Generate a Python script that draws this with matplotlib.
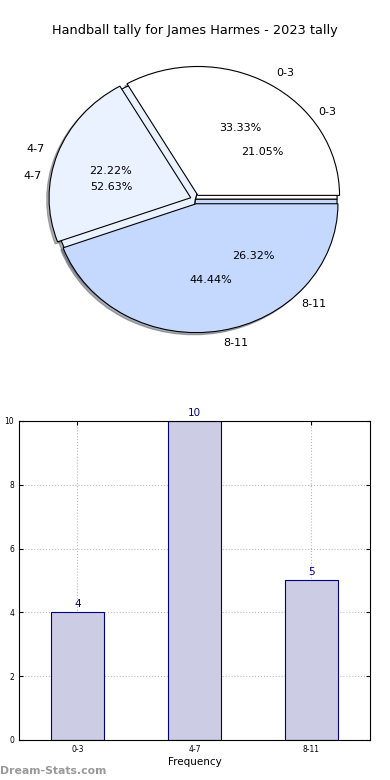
import matplotlib
matplotlib.use("Agg")
import matplotlib.pyplot as plt
import numpy as np

# pie data (two tallies overlaid)
cats = ["0-3", "4-7", "8-11"]
prev_counts = [3, 2, 4]
counts = [4, 10, 5]
pie_colors = ["#ffffff", "#eaf1ff", "#c5d9ff"]

fig = plt.figure(figsize=(3.9, 7.8), dpi=100)
fig.text(0.5, 0.961, "Handball tally for James Harmes - 2023 tally",
         ha="center", va="center", fontsize=9.3)

shade = dict(ox=-0.012, oy=-0.012, shade=0.6)
ax1 = fig.add_axes([0.036, 0.533, 0.93, 0.423])
# underneath: current tally
ax1.pie(counts, labels=cats, colors=pie_colors, autopct="%1.2f%%",
        shadow=shade, wedgeprops=dict(edgecolor="black", linewidth=0.8),
        textprops=dict(fontsize=8))
# on top: exploded tally
ax1.pie(prev_counts, labels=cats, colors=pie_colors, autopct="%1.2f%%",
        explode=[0.035] * 3, shadow=shade,
        wedgeprops=dict(edgecolor="black", linewidth=0.8),
        textprops=dict(fontsize=8))
ax1.set_aspect("auto")
ax1.set_xlim(-1.28, 1.28)
ax1.set_ylim(-1.28, 1.28)

ax2 = fig.add_axes([0.0487, 0.0513, 0.9, 0.409])
x = np.arange(len(cats))
bars = ax2.bar(x, counts, width=0.45, color="#ccccE4", edgecolor="navy",
               linewidth=0.8, zorder=2)
for xi, v in zip(x, counts):
    ax2.text(xi, v + 0.1, str(v), ha="center", va="bottom", color="navy", fontsize=7.5)
ax2.set_xlim(-0.5, 2.5)
ax2.set_ylim(0, 10)
ax2.set_xticks(x)
ax2.set_xticklabels(cats)
ax2.set_yticks([0, 2, 4, 6, 8, 10])
ax2.tick_params(direction="in", labelsize=5.5, top=True, right=True, length=3)
ax2.grid(True, linestyle=":", color="#bbbbbb", linewidth=0.8, zorder=0)
ax2.set_xlabel("Frequency", fontsize=7.5, labelpad=2)
ax2.set_ylabel("Goal Intervals", fontsize=7.5, labelpad=6)

fig.text(0.0, 0.012, "Dream-Stats.com", color="#999999", fontsize=7.8,
         fontweight="bold", ha="left", va="center")

fig.savefig("out.png", dpi=100)
